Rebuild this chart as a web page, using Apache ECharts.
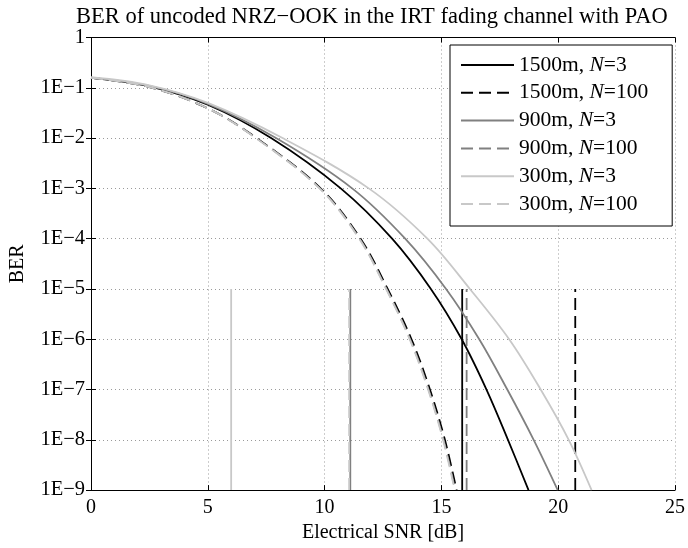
<!DOCTYPE html>
<html>
<head>
<meta charset="utf-8">
<script src="https://cdn.jsdelivr.net/npm/echarts@6/dist/echarts.min.js"></script>
<style>
html,body{margin:0;padding:0;background:#fff;}
#chart{width:688px;height:548px;}
</style>
</head>
<body>
<div id="chart"></div>
<script>
// ---- data ----
const titleText = 'BER of uncoded NRZ\u2212OOK in the IRT fading channel with PAO';
const xTickLabels = ['0', '5', '10', '15', '20', '25'];
const yTickLabels = ['1E\u22129','1E\u22128','1E\u22127','1E\u22126','1E\u22125','1E\u22124','1E\u22123','1E\u22122','1E\u22121','1'];

// 1500 m, N = 3
const snr1500N3 = [0, 2.5, 5, 7.71, 10.69, 12.89, 14.55, 15.87, 16.93, 17.85, 18.73];
const ber1500N3 = [0.158, 0.107, 0.046, 1e-2, 1e-3, 1e-4, 1e-5, 1e-6, 1e-7, 1e-8, 1e-9];
// 1500 m, N = 100
const snr1500N100 = [0, 2.5, 5, 7.09, 9.83, 11.54, 12.70, 13.72, 14.51, 15.15, 15.65];
const ber1500N100 = [0.158, 0.103, 0.039, 1e-2, 1e-3, 1e-4, 1e-5, 1e-6, 1e-7, 1e-8, 1e-9];
// 900 m, N = 3
const snr900N3 = [0, 2.5, 5, 7.92, 11.18, 13.45, 15.2, 16.62, 17.82, 18.95, 19.98];
const ber900N3 = [0.16, 0.109, 0.048, 1e-2, 1e-3, 1e-4, 1e-5, 1e-6, 1e-7, 1e-8, 1e-9];
// 900 m, N = 100
const snr900N100 = [0, 2.5, 5, 7.07, 9.8, 11.5, 12.65, 13.66, 14.45, 15.09, 15.59];
const ber900N100 = [0.158, 0.103, 0.039, 1e-2, 1e-3, 1e-4, 1e-5, 1e-6, 1e-7, 1e-8, 1e-9];
// 300 m, N = 3
const snr300N3 = [0, 2.5, 5, 8.2, 11.89, 14.4, 16.22, 17.9, 19.25, 20.45, 21.43];
const ber300N3 = [0.162, 0.112, 0.05, 1e-2, 1e-3, 1e-4, 1e-5, 1e-6, 1e-7, 1e-8, 1e-9];
// 300 m, N = 100
const snr300N100 = [0, 2.5, 5, 7.05, 9.78, 11.48, 12.63, 13.64, 14.43, 15.07, 15.57];
const ber300N100 = [0.158, 0.103, 0.039, 1e-2, 1e-3, 1e-4, 1e-5, 1e-6, 1e-7, 1e-8, 1e-9];

// required SNR markers (vertical lines from 1E-9 up to 1E-5)
const markerSnr = [15.89, 20.73, 11.1, 16.08, 6.0, 11.05];
const markerBer = [1e-9, 1e-5];

const seriesNames = ['1500m, N=3', '1500m, N=100', '900m, N=3', '900m, N=100', '300m, N=3', '300m, N=100'];
const legendRich = ['{a|1500m, }{i|N}{a|=3}', '{a|1500m, }{i|N}{a|=100}', '{a|900m, }{i|N}{a|=3}', '{a|900m, }{i|N}{a|=100}', '{a|300m, }{i|N}{a|=3}', '{a|300m, }{i|N}{a|=100}'];

// ---- styling ----
const colors = ['#000000', '#000000', '#808080', '#808080', '#c8c8c8', '#c8c8c8'];
const dashed = [false, true, false, true, false, true];
const curveSnr = [snr1500N3, snr1500N100, snr900N3, snr900N100, snr300N3, snr300N100];
const curveBer = [ber1500N3, ber1500N100, ber900N3, ber900N100, ber300N3, ber300N100];
const FONT = '"Liberation Serif", "Times New Roman", serif';
const DASH = [12, 6];

const series = [];
for (let k = 0; k < 6; k++) {
  const ls = { color: colors[k], width: 1.8, type: dashed[k] ? DASH : 'solid' };
  series.push({
    name: seriesNames[k], type: 'line', symbol: 'none', showSymbol: false, smooth: 0.35,
    data: curveSnr[k].map((x, i) => [x, curveBer[k][i]]),
    lineStyle: ls, itemStyle: { color: colors[k] }, z: 3 + k, animation: false
  });
  series.push({
    name: seriesNames[k], type: 'line', symbol: 'none', showSymbol: false,
    data: markerBer.map(b => [markerSnr[k], b]),
    lineStyle: { color: colors[k], width: 1.8, type: dashed[k] ? DASH : 'solid' },
    itemStyle: { color: colors[k] }, z: 3 + k, animation: false
  });
}

const gridLine = { show: true, lineStyle: { color: '#9a9a9a', type: [1, 3], width: 1 } };
const axisLineStyle = { show: true, lineStyle: { color: '#000', width: 1 } };
const tickStyle = { show: true, inside: true, length: 5, lineStyle: { color: '#000' } };

const chart = echarts.init(document.getElementById('chart'), null, { renderer: 'canvas' });
chart.setOption({
  animation: false,
  backgroundColor: '#fff',
  title: {
    text: titleText, left: 71, top: 1,
    textStyle: { fontFamily: FONT, fontSize: 22.5, fontWeight: 'normal', color: '#000' }
  },
  grid: { left: 90.5, right: 10, top: 37.5, bottom: 54, containLabel: false },
  legend: {
    data: seriesNames, orient: 'vertical', left: 450, top: 45,
    itemWidth: 53, itemHeight: 14, itemGap: 5.8,
    padding: [9, 24, 11, 10],
    borderColor: '#000', borderWidth: 1, backgroundColor: '#fff',
    selectedMode: false,
    itemStyle: { opacity: 0 },
    formatter: function (name) { return legendRich[seriesNames.indexOf(name)]; },
    textStyle: {
      fontFamily: FONT, fontSize: 21.5, color: '#000',
      rich: {
        a: { fontFamily: FONT, fontSize: 21.5, color: '#000' },
        i: { fontFamily: FONT, fontSize: 21.5, color: '#000', fontStyle: 'italic' }
      }
    }
  },
  xAxis: [{
    type: 'value', min: 0, max: 25, interval: 5, position: 'bottom',
    name: 'Electrical SNR [dB]', nameLocation: 'middle', nameGap: 29,
    nameTextStyle: { fontFamily: FONT, fontSize: 20, color: '#000' },
    axisLine: axisLineStyle, axisTick: tickStyle, splitLine: gridLine,
    axisLabel: { fontFamily: FONT, fontSize: 20, color: '#000', margin: 8,
      formatter: v => xTickLabels[Math.round(v / 5)] }
  }, {
    type: 'value', min: 0, max: 25, interval: 5, position: 'top',
    axisLine: axisLineStyle, axisTick: tickStyle, splitLine: { show: false },
    axisLabel: { show: false }
  }],
  yAxis: [{
    type: 'log', logBase: 10, min: 1e-9, max: 1, splitNumber: 9, position: 'left',
    name: 'BER', nameLocation: 'middle', nameGap: 63,
    nameTextStyle: { fontFamily: FONT, fontSize: 20, color: '#000' },
    axisLine: axisLineStyle, axisTick: tickStyle, splitLine: gridLine, minorTick: { show: false },
    axisLabel: { fontFamily: FONT, fontSize: 20.5, color: '#000', margin: 6,
      formatter: v => yTickLabels[Math.round(Math.log10(v)) + 9] }
  }, {
    type: 'log', logBase: 10, min: 1e-9, max: 1, splitNumber: 9, position: 'right',
    axisLine: axisLineStyle, axisTick: tickStyle, splitLine: { show: false },
    axisLabel: { show: false }
  }],
  series: series
});
</script>
</body>
</html>
